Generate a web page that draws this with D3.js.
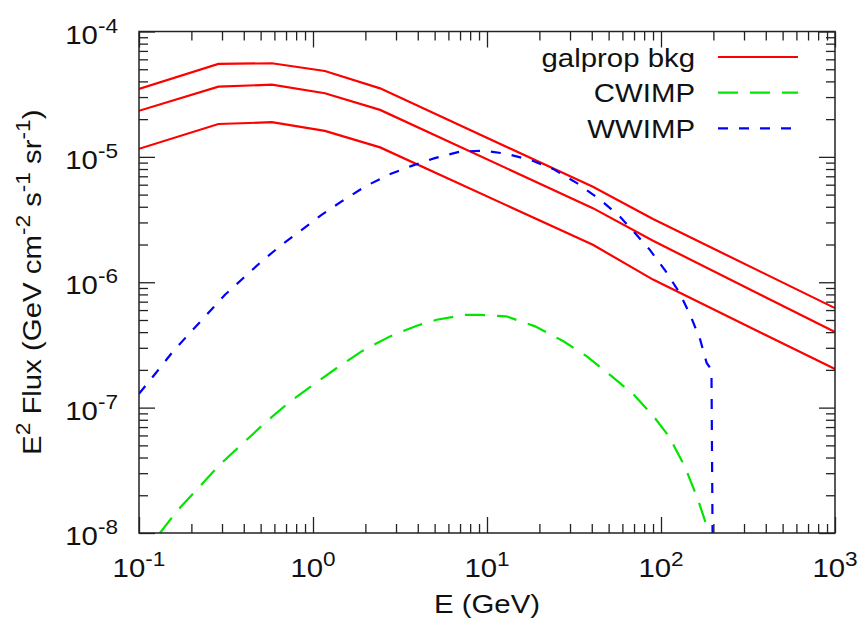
<!DOCTYPE html>
<html>
<head>
<meta charset="utf-8">
<script src="https://cdn.jsdelivr.net/npm/d3@7"></script>
<style>
  html, body { margin: 0; padding: 0; background: #fff; }
  svg { display: block; font-family: "Liberation Sans", Arial, sans-serif; }
</style>
</head>
<body>
<svg id="chart" width="863" height="623"></svg>
<script>
// Energies (GeV) of the galprop background nodes
const bkgEnergy = [0.1, 0.286, 0.58, 1.17, 2.43, 40.6, 90, 1000];
// Three galprop background bands, E^2 flux (GeV cm^-2 s^-1 sr^-1)
const bkgHigh = [3.48e-5, 5.51e-5, 5.58e-5, 4.84e-5, 3.52e-5, 5.77e-6, 3.19e-6, 6.22e-7];
const bkgMid  = [2.33e-5, 3.63e-5, 3.77e-5, 3.22e-5, 2.37e-5, 3.90e-6, 2.14e-6, 4.01e-7];
const bkgLow  = [1.16e-5, 1.83e-5, 1.89e-5, 1.61e-5, 1.19e-5, 1.99e-6, 1.05e-6, 2.03e-7];

// WWIMP signal spectrum
const wwEnergy = [0.1, 0.125, 0.157, 0.196, 0.245, 0.312, 0.398, 0.507, 0.661, 0.862,
                  1.12, 1.46, 1.99, 2.71, 3.69, 5.01, 6.97, 9.55, 12.9, 17.7,
                  24.1, 32.9, 44.9, 58.0, 69.6, 86.1, 106.6, 128, 147, 168,
                  183, 195, 200];
const wwFlux = [1.29e-7, 1.89e-7, 2.81e-7, 3.94e-7, 5.51e-7, 7.94e-7, 1.08e-6, 1.47e-6, 1.99e-6, 2.62e-6,
                3.45e-6, 4.41e-6, 5.80e-6, 7.19e-6, 8.48e-6, 9.77e-6, 1.10e-5, 1.12e-5, 1.06e-5, 9.47e-6,
                7.98e-6, 6.17e-6, 4.54e-6, 3.34e-6, 2.54e-6, 1.82e-6, 1.22e-6, 8.20e-7, 5.51e-7, 3.48e-7,
                2.27e-7, 2.0e-7, 1e-9];

// CWIMP signal spectrum
const cwEnergy = [0.1, 0.132, 0.154, 0.172, 0.224, 0.292, 0.398, 0.529, 0.722, 1.0,
                  1.37, 1.9, 2.77, 3.95, 5.14, 7.48, 9.1, 12.9, 18.9, 27.5,
                  37.5, 52.0, 69.6, 90.6, 111, 137, 163, 189, 200];
const cwFlux = [6.3e-9, 1.0e-8, 1.32e-8, 1.59e-8, 2.36e-8, 3.52e-8, 5.24e-8, 7.55e-8, 1.09e-7, 1.52e-7,
                2.07e-7, 2.81e-7, 3.70e-7, 4.50e-7, 5.02e-7, 5.50e-7, 5.50e-7, 5.35e-7, 4.45e-7, 3.38e-7,
                2.56e-7, 1.78e-7, 1.27e-7, 8.53e-8, 5.91e-8, 3.40e-8, 1.85e-8, 1.0e-8, 1e-10];

const xDomain = [0.1, 1000];
const yDomain = [1e-8, 1e-4];
const xMajorExp = [-1, 0, 1, 2, 3];
const yMajorExp = [-8, -7, -6, -5, -4];

const legendLabels = ["galprop bkg", "CWIMP", "WWIMP"];
const xTitle = "E (GeV)";

const frame = { left: 139, right: 835, top: 31.5, bottom: 533 };
const W = frame.right - frame.left, H = frame.bottom - frame.top;

// text style: slightly wide sans, like the PostScript Helvetica output
const FS = 26, SUP = 20, SUPDY = -11, STRETCH = 1.13;

const svg = d3.select("#chart");
const g = svg.append("g").attr("transform", `translate(${frame.left},${frame.top})`);

const x = d3.scaleLog().domain(xDomain).range([0, W]);
const y = d3.scaleLog().domain(yDomain).range([H, 0]);

const minorOf = (lo, hi) => {
  const out = [];
  for (let e = lo; e < hi; e++) for (let m = 2; m <= 9; m++) out.push(m * Math.pow(10, e));
  return out;
};
const xMajor = xMajorExp.map(e => Math.pow(10, e));
const yMajor = yMajorExp.map(e => Math.pow(10, e));
const xMinor = minorOf(-1, 3);
const yMinor = minorOf(-8, -4);

const MAJ = 16, MIN = 9;

function styleAxis(sel) {
  sel.select(".domain").remove();
  sel.selectAll(".tick line").attr("stroke", "#222").attr("stroke-width", 1.3);
}

// ticks on all four sides, pointing inward
g.append("g").attr("transform", `translate(0,${H})`)
  .call(d3.axisBottom(x).tickValues(xMajor).tickSize(-MAJ).tickFormat("")).call(styleAxis);
g.append("g").attr("transform", `translate(0,${H})`)
  .call(d3.axisBottom(x).tickValues(xMinor).tickSize(-MIN).tickFormat("")).call(styleAxis);
g.append("g")
  .call(d3.axisTop(x).tickValues(xMajor).tickSize(-MAJ).tickFormat("")).call(styleAxis);
g.append("g")
  .call(d3.axisTop(x).tickValues(xMinor).tickSize(-MIN).tickFormat("")).call(styleAxis);
g.append("g")
  .call(d3.axisLeft(y).tickValues(yMajor).tickSize(-MAJ).tickFormat("")).call(styleAxis);
g.append("g")
  .call(d3.axisLeft(y).tickValues(yMinor).tickSize(-MIN).tickFormat("")).call(styleAxis);
g.append("g").attr("transform", `translate(${W},0)`)
  .call(d3.axisRight(y).tickValues(yMajor).tickSize(-MAJ).tickFormat("")).call(styleAxis);
g.append("g").attr("transform", `translate(${W},0)`)
  .call(d3.axisRight(y).tickValues(yMinor).tickSize(-MIN).tickFormat("")).call(styleAxis);

function label(parent, px, py, anchor, extra) {
  return parent.append("text")
    .attr("transform", `translate(${px},${py}) ${extra || ""} scale(${STRETCH},1)`)
    .attr("text-anchor", anchor).attr("font-size", FS).attr("fill", "#111");
}

// power-of-ten labels
function powLabel(sel, exp) {
  sel.append("tspan").text("10");
  sel.append("tspan").attr("font-size", SUP).attr("dy", SUPDY).text(String(exp));
}
xMajorExp.forEach(e => {
  label(g, x(Math.pow(10, e)), H + 44, "middle").call(powLabel, e);
});
yMajorExp.forEach(e => {
  label(g, -21, y(Math.pow(10, e)) + 12, "end").call(powLabel, e);
});

// data curves, clipped to the frame
svg.append("clipPath").attr("id", "plotclip")
  .append("rect").attr("width", W).attr("height", H);
const plot = g.append("g").attr("clip-path", "url(#plotclip)");

const line = d3.line().x(d => x(d[0])).y(d => y(d[1]));
const zipE = (es, fs) => es.map((e, i) => [e, fs[i]]);

const series = [
  { data: zipE(bkgEnergy, bkgHigh), color: "#ff0000", dash: null },
  { data: zipE(bkgEnergy, bkgMid),  color: "#ff0000", dash: null },
  { data: zipE(bkgEnergy, bkgLow),  color: "#ff0000", dash: null },
  { data: zipE(cwEnergy, cwFlux),   color: "#00e600", dash: "20,12" },
  { data: zipE(wwEnergy, wwFlux),   color: "#0000ff", dash: "10,11" }
];
series.forEach(s => {
  plot.append("path").attr("d", line(s.data))
    .attr("fill", "none").attr("stroke", s.color).attr("stroke-width", 2.2)
    .attr("stroke-dasharray", s.dash);
});

// frame
g.append("rect").attr("width", W).attr("height", H)
  .attr("fill", "none").attr("stroke", "#222").attr("stroke-width", 1.5);

// legend
const legendStyle = [
  { color: "#ff0000", dash: null },
  { color: "#00e600", dash: "20,12" },
  { color: "#0000ff", dash: "10,11" }
];
legendLabels.forEach((lab, i) => {
  const ly = 57 + i * 35.7;
  label(svg, 695, ly + 9.5, "end").text(lab);
  svg.append("line").attr("x1", 718).attr("x2", 798).attr("y1", ly).attr("y2", ly)
    .attr("stroke", legendStyle[i].color).attr("stroke-width", 2.2)
    .attr("stroke-dasharray", legendStyle[i].dash);
});

// axis titles
label(svg, frame.left + W / 2, 613, "middle").text(xTitle);

const yt = label(svg, 41, frame.top + H / 2, "middle", "rotate(-90)");
const yParts = [["E", 0], ["2", 1], [" Flux (GeV cm", 0], ["-2", 1], [" s", 0], ["-1", 1], [" sr", 0], ["-1", 1], [")", 0]];
let raised = false;
yParts.forEach(([t, sup]) => {
  const ts = yt.append("tspan").text(t);
  if (sup) {
    ts.attr("font-size", SUP);
    if (!raised) { ts.attr("dy", SUPDY); raised = true; }
  } else if (raised) {
    ts.attr("dy", -SUPDY); raised = false;
  }
});
</script>
</body>
</html>
